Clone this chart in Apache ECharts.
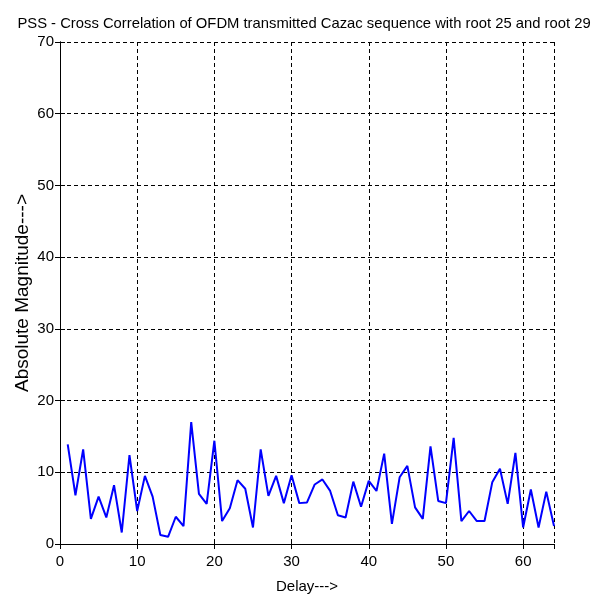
<!DOCTYPE html>
<html>
<head>
<meta charset="utf-8">
<script src="https://cdn.jsdelivr.net/npm/echarts@6/dist/echarts.min.js"></script>
<style>
  html, body { margin: 0; padding: 0; background: #fff; }
  #chart { width: 601px; height: 599px; }
</style>
</head>
<body>
<div id="chart"></div>
<script>
// Delay index (samples) and magnitude of the cross-correlation at each delay
const delays = [
  1, 2, 3, 4, 5, 6, 7, 8, 9, 10, 11, 12, 13, 14, 15, 16,
  17, 18, 19, 20, 21, 22, 23, 24, 25, 26, 27, 28, 29, 30, 31, 32,
  33, 34, 35, 36, 37, 38, 39, 40, 41, 42, 43, 44, 45, 46, 47, 48,
  49, 50, 51, 52, 53, 54, 55, 56, 57, 58, 59, 60, 61, 62, 63, 64
];
const magnitude = [
  13.9, 6.8, 13.2, 3.5, 6.6, 3.7, 8.2, 1.6, 12.4, 4.6, 9.5, 6.6, 1.25, 1.0, 3.8, 2.5,
  17.0, 7.0, 5.6, 14.4, 3.2, 5.0, 8.9, 7.7, 2.3, 13.2, 6.7, 9.5, 5.7, 9.6, 5.7, 5.8,
  8.3, 9.0, 7.4, 4.0, 3.7, 8.7, 5.2, 8.8, 7.4, 12.6, 2.8, 9.3, 10.9, 5.1, 3.5, 13.6,
  6.0, 5.7, 14.8, 3.2, 4.6, 3.2, 3.2, 8.6, 10.5, 5.6, 12.7, 2.3, 7.6, 2.3, 7.3, 2.5
];
const xTicks = { min: 0, max: 64, interval: 10 };
const yTicks = { min: 0, max: 70, interval: 10 };

const titleText = 'PSS - Cross Correlation of OFDM transmitted Cazac sequence with root 25 and root 29';
const xLabel = 'Delay--->';
const yLabel = 'Absolute Magnitude--->';

const font = '"Liberation Sans", Arial, sans-serif';
const ink = '#000';

const chart = echarts.init(document.getElementById('chart'), null, { renderer: 'canvas' });

const frameLine = { show: true, lineStyle: { color: ink, width: 1 } };
const innerTick = { show: true, inside: true, length: 5, lineStyle: { color: ink, width: 1 } };
const dashedGrid = { show: true, lineStyle: { color: ink, width: 1, type: [4, 3] } };

chart.setOption({
  animation: false,
  backgroundColor: '#fff',
  title: {
    text: titleText,
    left: 299, textAlign: 'center',
    top: 11,
    textStyle: { fontFamily: font, fontSize: 14.8, fontWeight: 'normal', color: ink }
  },
  grid: { left: 60, right: 47, top: 42, bottom: 54, containLabel: false },
  xAxis: [
    {
      type: 'value', position: 'bottom',
      min: xTicks.min, max: xTicks.max, interval: xTicks.interval,
      name: xLabel, nameLocation: 'middle', nameGap: 35, nameMoveOverlap: false,
      nameTextStyle: { fontFamily: font, fontSize: 15, color: ink },
      axisLine: frameLine, axisTick: innerTick, splitLine: dashedGrid,
      axisLabel: { margin: 10, fontFamily: font, fontSize: 15, color: ink,
        showMaxLabel: false }
    },
    {
      type: 'value', position: 'top',
      min: xTicks.min, max: xTicks.max, interval: xTicks.interval,
      axisLine: frameLine, axisTick: innerTick, splitLine: { show: false },
      axisLabel: { show: false }
    }
  ],
  yAxis: [
    {
      type: 'value', position: 'left',
      min: yTicks.min, max: yTicks.max, interval: yTicks.interval,
      name: yLabel, nameLocation: 'middle', nameGap: 28, nameMoveOverlap: false,
      nameTextStyle: { fontFamily: font, fontSize: 19, color: ink },
      axisLine: frameLine, axisTick: innerTick, splitLine: dashedGrid,
      axisLabel: { margin: 6, fontFamily: font, fontSize: 15, color: ink }
    },
    {
      type: 'value', position: 'right',
      min: yTicks.min, max: yTicks.max, interval: yTicks.interval,
      axisLine: frameLine, axisTick: innerTick, splitLine: { show: false },
      axisLabel: { show: false }
    }
  ],
  series: [
    {
      type: 'line',
      xAxisIndex: 0, yAxisIndex: 0,
      data: delays.map((d, i) => [d, magnitude[i]]),
      showSymbol: false,
      lineStyle: { color: '#0000ff', width: 2 },
      itemStyle: { color: '#0000ff' }
    }
  ]
});
</script>
</body>
</html>
